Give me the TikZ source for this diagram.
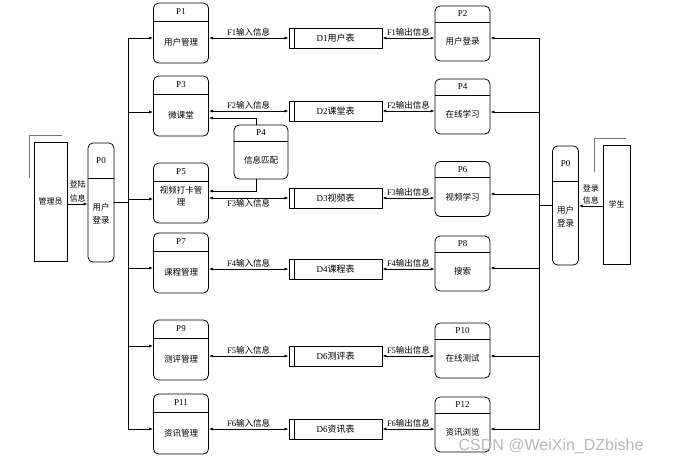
\documentclass[tikz,border=0pt]{standalone}
\usepackage{fontspec}
\setmainfont{Liberation Serif}
\newfontfamily\cjk{Noto Sans CJK SC}
\newfontfamily\wmfont{Liberation Sans}
\usepackage{tikz}
\usetikzlibrary{positioning, arrows.meta, calc}

\begin{document}
\begin{tikzpicture}[
  x=1pt, y=-1pt,
  font=\fontsize{8.5}{10}\selectfont,
  proc/.style={draw, line width=0.8pt, rounded corners=5pt, align=center, inner sep=0pt,
    font=\cjk\fontsize{8.5}{12}\selectfont,
    path picture={\draw[line width=0.8pt] ([yshift=-#1]path picture bounding box.north west) -- ([yshift=-#1]path picture bounding box.north east);},
    execute at begin node={\rule{0pt}{\dimexpr #1+7pt\relax}}},
  pl/.style={proc=18pt, minimum width=55pt, minimum height=60pt},
  pr/.style={proc=16pt, minimum width=55pt, minimum height=55pt},
  pz/.style={proc=35pt, minimum width=26pt, minimum height=119pt, font=\cjk\fontsize{8.5}{13}\selectfont},
  ttl/.style={anchor=center, yshift=-#1, inner sep=0pt, font=\fontsize{9}{10}\selectfont,
    execute at begin node={}},
  store/.style={draw, line width=0.8pt, minimum width=93pt, minimum height=20pt, inner sep=0pt,
    font=\fontsize{9}{10}\selectfont,
    path picture={\draw[line width=0.8pt] ([xshift=5pt]path picture bounding box.north west) -- ([xshift=5pt]path picture bounding box.south west);}},
  ent/.style={draw, line width=0.8pt, inner sep=0pt, font=\cjk\fontsize{8}{10}\selectfont},
  gry/.style={line width=0.8pt, black!55},
  arr/.style={-{Latex[length=4pt, width=3pt]}, line width=0.7pt},
  dbl/.style={{Latex[length=4pt, width=3pt]}-{Latex[length=4pt, width=3pt]}, line width=0.7pt},
  flab/.style={above, inner sep=1pt, font=\fontsize{8.5}{10}\selectfont},
  slab/.style={above, align=center, inner sep=1pt}
]
  \useasboundingbox (0,0) rectangle (673,464);

  % 外部实体
  \node[ent, minimum width=33pt, minimum height=119pt] (adm) at (50.5,201.5) {管理员};
  \node[ent, minimum width=27pt, minimum height=119pt] (stu) at (616.5,204.5) {学生};
  \draw[gry] (29,178) |- (62,135);
  \draw[gry] (594,172) |- (626,138);

  % 用户登录 P0
  \node[pz, label={[ttl=17.5pt]north:P0}] (p0l) at (101,202.5) {用户\\登录};
  \node[pz, label={[ttl=17.5pt]north:P0}] (p0r) at (565.5,205.5) {用户\\登录};

  % 左侧处理
  \node[pl, label={[ttl=9pt]north:P1}] (p1) at (181,33) {用户管理};
  \node[pl, label={[ttl=9pt]north:P3}] (p3) at (181,106) {微课堂};
  \node[pl, label={[ttl=9pt]north:P5}] (p5) at (181,193) {视频打卡管\\理};
  \node[pl, label={[ttl=9pt]north:P7}] (p7) at (181,263) {课程管理};
  \node[pl, label={[ttl=9pt]north:P9}] (p9) at (181,350) {测评管理};
  \node[pl, label={[ttl=9pt]north:P11}] (p11) at (181,424) {资讯管理};

  % 右侧处理
  \node[pr, label={[ttl=8pt]north:P2}] (p2) at (462.5,33.5) {用户登录};
  \node[pr, label={[ttl=8pt]north:P4}] (p4) at (462.5,106.5) {在线学习};
  \node[pr, label={[ttl=8pt]north:P6}] (p6) at (462.5,189) {视频学习};
  \node[pr, label={[ttl=8pt]north:P8}] (p8) at (462.5,263.5) {搜索};
  \node[pr, label={[ttl=8pt]north:P10}] (p10) at (462.5,350.5) {在线测试};
  \node[pr, label={[ttl=8pt]north:P12}] (p12) at (462.5,424.5) {资讯浏览};

  % 信息匹配
  \node[pr, minimum width=54pt, minimum height=54pt, label={[ttl=8pt]north:P4}] (p4m) at (261,152) {信息匹配};

  % 数据存储
  \node[store] (d1) at (335.5,38) {D1{\cjk 用户表}};
  \node[store] (d2) at (335.5,111) {D2{\cjk 课堂表}};
  \node[store] (d3) at (335.5,198) {D3{\cjk 视频表}};
  \node[store] (d4) at (335.5,269) {D4{\cjk 课程表}};
  \node[store] (d5) at (335.5,356) {D6{\cjk 测评表}};
  \node[store] (d6) at (335.5,429) {D6{\cjk 资讯表}};

  % 登录信息
  \draw[arr] ([yshift=-2.5pt]adm.east) -- node[slab, font=\cjk\fontsize{8}{14}\selectfont] {登陆\\信息} ([yshift=-2.5pt]adm.east -| p0l.west);
  \draw[arr] ([yshift=-1.5pt]stu.west) -- node[slab, font=\cjk\fontsize{8}{12}\selectfont] {登录\\信息} ([yshift=-1.5pt]stu.west -| p0r.east);

  % 左总线
  \draw[arr] (p0l.east) -- ++(14,0) |- ([yshift=-5pt]p1.west);
  \draw[arr] (p0l.east) -- ++(14,0) |- ([yshift=-6pt]p3.west);
  \draw[arr] (p0l.east) -- ++(14,0) |- ([yshift=-6pt]p5.west);
  \draw[arr] (p0l.east) -- ++(14,0) |- ([yshift=-5pt]p7.west);
  \draw[arr] (p0l.east) -- ++(14,0) |- ([yshift=4pt]p9.west);
  \draw[arr] (p0l.east) -- ++(14,0) |- ([yshift=-5pt]p11.west);

  % 右总线
  \draw[arr] (p0r.west) -- ++(-13,0) |- ([yshift=-4.5pt]p2.east);
  \draw[arr] (p0r.west) -- ++(-13,0) |- ([yshift=-5.5pt]p4.east);
  \draw[arr] (p0r.west) -- ++(-13,0) |- ([yshift=-5pt]p6.east);
  \draw[arr] (p0r.west) -- ++(-13,0) |- ([yshift=-4.5pt]p8.east);
  \draw[arr] (p0r.west) -- ++(-13,0) |- ([yshift=-5.5pt]p10.east);
  \draw[arr] (p0r.west) -- ++(-13,0) |- ([yshift=-4.5pt]p12.east);

  % 信息匹配
  \draw[arr] ([xshift=-5pt]p4m.north) |- ([yshift=-12pt]p3.east);
  \draw[arr] ([xshift=-5pt]p4m.south) |- ([yshift=2pt]p5.east);

  % 输入信息
  \draw[dbl] (p1.east |- d1.west) -- node[flab] {F1{\cjk 输入信息}} (d1.west);
  \draw[dbl] (p3.east |- d2.west) -- node[flab] {F2{\cjk 输入信息}} (d2.west);
  \draw[dbl] (p5.east |- d3.west) -- node[flab, below] {F3{\cjk 输入信息}} (d3.west);
  \draw[dbl] (p7.east |- d4.west) -- node[flab] {F4{\cjk 输入信息}} (d4.west);
  \draw[dbl] (p9.east |- d5.west) -- node[flab] {F5{\cjk 输入信息}} (d5.west);
  \draw[dbl] (p11.east |- d6.west) -- node[flab] {F6{\cjk 输入信息}} (d6.west);

  % 输出信息
  \draw[dbl] (d1.east) -- node[flab] {F1{\cjk 输出信息}} (p2.west |- d1.east);
  \draw[dbl] (d2.east) -- node[flab] {F2{\cjk 输出信息}} (p4.west |- d2.east);
  \draw[dbl] (d3.east) -- node[flab] {F3{\cjk 输出信息}} (p6.west |- d3.east);
  \draw[dbl] (d4.east) -- node[flab] {F4{\cjk 输出信息}} (p8.west |- d4.east);
  \draw[dbl] (d5.east) -- node[flab] {F5{\cjk 输出信息}} (p10.west |- d5.east);
  \draw[dbl] (d6.east) -- node[flab] {F6{\cjk 输出信息}} (p12.west |- d6.east);

  \node[text=black!28, font=\wmfont\fontsize{16}{16}\selectfont] (wm) at (551,446) {CSDN @WeiXin\_DZbishe};
\end{tikzpicture}
\end{document}
